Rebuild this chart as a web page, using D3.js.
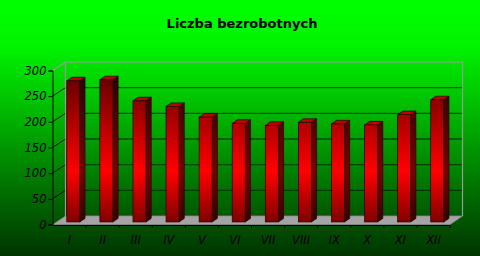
<!DOCTYPE html>
<html><head><meta charset="utf-8">
<script src="https://cdn.jsdelivr.net/npm/d3@7"></script>
<style>html,body{margin:0;padding:0;background:#000;}svg{display:block;}</style>
</head><body>
<script>
const categories = ["I","II","III","IV","V","VI","VII","VIII","IX","X","XI","XII"];
const values = [275, 277, 236, 225, 204, 192, 188, 194, 191, 189, 209, 238];
const yTicks = [0, 50, 100, 150, 200, 250, 300];
const title = "Liczba bezrobotnych";

const W = 480, H = 256;
const svg = d3.select("body").append("svg").attr("width", W).attr("height", H);
const defs = svg.append("defs");

const bg = defs.append("linearGradient").attr("id","bg").attr("x1",0).attr("y1",0).attr("x2",0).attr("y2",1);
bg.append("stop").attr("offset","0").attr("stop-color","#00ff00");
bg.append("stop").attr("offset","0.18").attr("stop-color","#00f400");
bg.append("stop").attr("offset","1").attr("stop-color","#003400");
svg.append("rect").attr("width",W).attr("height",H).attr("fill","url(#bg)");

const x = d3.scaleBand().domain(categories).range([53, 450]).padding(0);
const y = d3.scaleLinear().domain([0, 300]).range([224.5, 70.5]);
const DX = 12.5, DY = -8.5;

const gf = defs.append("linearGradient").attr("id","gf").attr("gradientUnits","userSpaceOnUse")
  .attr("x1",0).attr("y1",70).attr("x2",0).attr("y2",224);
gf.append("stop").attr("offset","0").attr("stop-color","#5a0000");
gf.append("stop").attr("offset","0.66").attr("stop-color","#ff0000");
gf.append("stop").attr("offset","1").attr("stop-color","#7a0000");
const gs = defs.append("linearGradient").attr("id","gs").attr("gradientUnits","userSpaceOnUse")
  .attr("x1",0).attr("y1",70).attr("x2",0).attr("y2",224);
gs.append("stop").attr("offset","0").attr("stop-color","#2a0000");
gs.append("stop").attr("offset","0.66").attr("stop-color","#7a0000");
gs.append("stop").attr("offset","1").attr("stop-color","#300000");

const x0 = x.range()[0], x1 = x.range()[1], yb = y(0);
svg.append("path")
  .attr("d", `M${x0},${yb}L${x1},${yb}L${x1+DX},${yb+DY}L${x0+DX},${yb+DY}Z`)
  .attr("fill","#a4a4a4").attr("stroke","#8a8a8a").attr("stroke-width",0.8);

const grid = svg.append("g");
yTicks.filter(t => t>0 && t<300).forEach(t => {
  grid.append("line").attr("x1",x0+DX).attr("x2",x1+DX).attr("y1",y(t)+DY).attr("y2",y(t)+DY)
    .attr("stroke","rgba(0,0,0,0.55)").attr("stroke-width",1.4);
  grid.append("line").attr("x1",x0-0.5).attr("x2",x0+DX).attr("y1",y(t)).attr("y2",y(t)+DY)
    .attr("stroke","#000").attr("stroke-width",0.9);
});
const border = "#9a9a9a";
svg.append("path")
  .attr("d", `M${x0+DX},${y(0)+DY}L${x0+DX},${y(300)+DY}L${x1+DX},${y(300)+DY}L${x1+DX},${y(0)+DY}`)
  .attr("fill","none").attr("stroke",border).attr("stroke-width",1.2);
svg.append("line").attr("x1",x0-0.5).attr("y1",y(300)).attr("x2",x0+DX).attr("y2",y(300)+DY)
  .attr("stroke",border).attr("stroke-width",1.2);

const bw = 13, f1 = 0.3, f2 = 0.72;
const bars = svg.append("g");
categories.forEach((c, i) => {
  const cx = x(c) + x.bandwidth()/2;
  const v = values[i];
  const lx = cx - bw/2 + f1*DX, rx = cx + bw/2 + f1*DX;
  const by = y(0) + f1*DY, ty = y(v) + f1*DY;
  const ddx = (f2-f1)*DX, ddy = (f2-f1)*DY;
  bars.append("path").attr("d", `M${rx},${by}L${rx},${ty}L${rx+ddx},${ty+ddy}L${rx+ddx},${by+ddy}Z`)
    .attr("fill","url(#gs)").attr("stroke","#200000").attr("stroke-width",0.7);
  bars.append("path").attr("d", `M${lx},${ty}L${rx},${ty}L${rx+ddx},${ty+ddy}L${lx+ddx},${ty+ddy}Z`)
    .attr("fill","#c00000").attr("stroke","#200000").attr("stroke-width",0.7);
  bars.append("rect").attr("x",lx).attr("y",ty).attr("width",bw).attr("height",by-ty)
    .attr("fill","url(#gf)").attr("stroke","#200000").attr("stroke-width",0.7);
});

const yAxis = d3.axisLeft(y).tickValues(yTicks).tickSize(4).tickPadding(2);
const gy = svg.append("g").attr("transform",`translate(${x0-0.5},0)`).call(yAxis);
gy.select(".domain").attr("stroke","#000").attr("stroke-width",1);
gy.selectAll(".tick line").attr("stroke","#000");
gy.selectAll("text").attr("font-family","DejaVu Sans").attr("font-style","italic")
  .attr("font-size",11.5).attr("fill","#000");

const xAxis = d3.axisBottom(x).tickSize(0).tickPadding(11);
const gx = svg.append("g").attr("transform",`translate(0,${y(0)+0.5})`).call(xAxis);
gx.select(".domain").attr("stroke","#000").attr("stroke-width",1);
gx.selectAll("text").attr("font-family","DejaVu Sans").attr("font-style","italic")
  .attr("font-size",11.5).attr("fill","#000");
gx.selectAll(".bound").data(categories.slice(1).concat(["end"])).enter().append("line")
  .attr("x1", (d,i) => x0 + x.bandwidth()*(i+1)).attr("x2", (d,i) => x0 + x.bandwidth()*(i+1))
  .attr("y1",0).attr("y2",3).attr("stroke","#000");

svg.append("text").attr("x",242).attr("y",28).attr("text-anchor","middle")
  .attr("font-family","DejaVu Sans").attr("font-weight","bold").attr("font-size",13)
  .attr("fill","#000").text(title);
</script>
</body></html>
